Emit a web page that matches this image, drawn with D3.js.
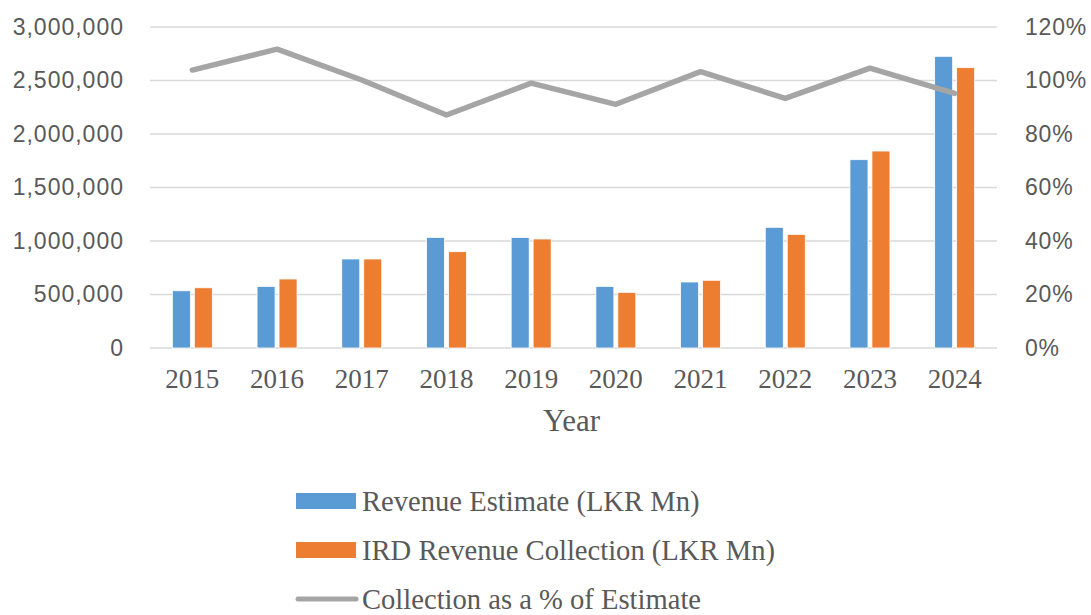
<!DOCTYPE html>
<html>
<head>
<meta charset="utf-8">
<script src="https://cdn.jsdelivr.net/npm/d3@7"></script>
<style>
  html, body { margin: 0; padding: 0; background: #fff; }
  svg { display: block; }
</style>
</head>
<body>
<div id="chart"></div>
<script>
(function(){
  'use strict';

  // data
  var years = ['2015', '2016', '2017', '2018', '2019', '2020', '2021', '2022', '2023', '2024'];
  var revenueEstimate = [535000, 576000, 832000, 1034000, 1034000, 576000, 617000, 1128000, 1760000, 2726000];
  var irdCollection = [563000, 645000, 832000, 900000, 1019000, 520000, 633000, 1062000, 1841000, 2620000];
  var collectionPct = [1.039, 1.117, 1.002, 0.871, 0.990, 0.911, 1.033, 0.933, 1.046, 0.952];
  var leftTicks = [0, 500000, 1000000, 1500000, 2000000, 2500000, 3000000];
  var rightTicks = [0, 0.2, 0.4, 0.6, 0.8, 1.0, 1.2];

  var seriesNames = ['Revenue Estimate (LKR Mn)', 'IRD Revenue Collection (LKR Mn)', 'Collection as a % of Estimate'];
  var colors = ['#5b9bd5', '#ed7d31', '#a5a5a5'];

  var width = 1091, height = 615;
  var plot = { left: 150, right: 997, top: 27, bottom: 348 };

  var svg = d3.select('#chart').append('svg')
    .attr('width', width)
    .attr('height', height);

  var x0 = d3.scaleBand()
    .domain(years)
    .range([plot.left, plot.right])
    .paddingInner(0.528)
    .paddingOuter(0.264);

  var x1 = d3.scaleBand()
    .domain([0, 1])
    .range([0, x0.bandwidth()])
    .paddingInner(0.18);

  var y = d3.scaleLinear().domain([0, 3000000]).range([plot.bottom, plot.top]);
  var yPct = d3.scaleLinear().domain([0, 1.2]).range([plot.bottom, plot.top]);

  // gridlines
  svg.append('g').attr('class', 'grid')
    .selectAll('line').data(leftTicks).enter().append('line')
    .attr('x1', plot.left).attr('x2', plot.right)
    .attr('y1', function (d) { return y(d); })
    .attr('y2', function (d) { return y(d); })
    .attr('stroke', '#d9d9d9')
    .attr('stroke-width', 1.6);

  // left axis
  var leftAxis = svg.append('g')
    .attr('transform', 'translate(' + (plot.left - 26) + ',0)')
    .call(d3.axisLeft(y).tickValues(leftTicks).tickSize(0).tickPadding(0).tickFormat(d3.format(',')));
  leftAxis.select('.domain').remove();
  leftAxis.selectAll('text')
    .attr('font-family', '"Liberation Sans", Arial, sans-serif')
    .attr('font-size', 23)
    .attr('letter-spacing', 1)
    .attr('fill', '#595959');

  // right axis
  var rightAxis = svg.append('g')
    .attr('transform', 'translate(' + (plot.right + 28) + ',0)')
    .call(d3.axisRight(yPct).tickValues(rightTicks).tickSize(0).tickPadding(0).tickFormat(d3.format('.0%')));
  rightAxis.select('.domain').remove();
  rightAxis.selectAll('text')
    .attr('font-family', '"Liberation Sans", Arial, sans-serif')
    .attr('font-size', 23)
    .attr('letter-spacing', 0.8)
    .attr('fill', '#595959');

  // bars
  var groups = svg.append('g').attr('class', 'bars')
    .selectAll('g').data(years).enter().append('g')
    .attr('transform', function (d) { return 'translate(' + x0(d) + ',0)'; });

  groups.selectAll('rect')
    .data(function (d, i) { return [revenueEstimate[i], irdCollection[i]]; })
    .enter().append('rect')
    .attr('x', function (d, j) { return x1(j); })
    .attr('width', x1.bandwidth())
    .attr('y', function (d) { return y(d); })
    .attr('height', function (d) { return y(0) - y(d); })
    .attr('fill', function (d, j) { return colors[j]; })
    .attr('stroke', '#fff')
    .attr('stroke-width', 0.8);

  // percentage line
  var line = d3.line()
    .x(function (d, i) { return x0(years[i]) + x0.bandwidth() / 2; })
    .y(function (d) { return yPct(d); });

  svg.append('path')
    .datum(collectionPct)
    .attr('d', line)
    .attr('fill', 'none')
    .attr('stroke', colors[2])
    .attr('stroke-width', 5.5)
    .attr('stroke-linejoin', 'round')
    .attr('stroke-linecap', 'round');

  // x axis labels
  svg.append('g').attr('class', 'x-labels')
    .selectAll('text').data(years).enter().append('text')
    .attr('x', function (d) { return x0(d) + x0.bandwidth() / 2; })
    .attr('y', 388)
    .attr('text-anchor', 'middle')
    .attr('font-family', '"Liberation Serif", "Times New Roman", serif')
    .attr('font-size', 27)
    .attr('fill', '#595959')
    .text(function (d) { return d; });

  svg.append('text')
    .attr('x', (plot.left + plot.right) / 2 - 2)
    .attr('y', 431)
    .attr('text-anchor', 'middle')
    .attr('font-family', '"Liberation Serif", "Times New Roman", serif')
    .attr('font-size', 31)
    .attr('fill', '#595959')
    .text('Year');

  // legend
  var legend = svg.append('g').attr('class', 'legend')
    .selectAll('g').data(seriesNames).enter().append('g')
    .attr('transform', function (d, i) { return 'translate(296,' + (501 + i * 49) + ')'; });

  legend.filter(function (d, i) { return i < 2; }).append('rect')
    .attr('x', 0).attr('y', -8)
    .attr('width', 60).attr('height', 16)
    .attr('fill', function (d, i) { return colors[i]; });

  legend.filter(function (d, i) { return i === 2; }).append('line')
    .attr('x1', 2).attr('x2', 60)
    .attr('y1', 0).attr('y2', 0)
    .attr('stroke', colors[2])
    .attr('stroke-width', 5)
    .attr('stroke-linecap', 'round');

  legend.append('text')
    .attr('x', 66)
    .attr('y', 10)
    .attr('font-family', '"Liberation Serif", "Times New Roman", serif')
    .attr('font-size', 28.6)
    .attr('fill', '#595959')
    .text(function (d) { return d; });
})();
</script>
</body>
</html>
